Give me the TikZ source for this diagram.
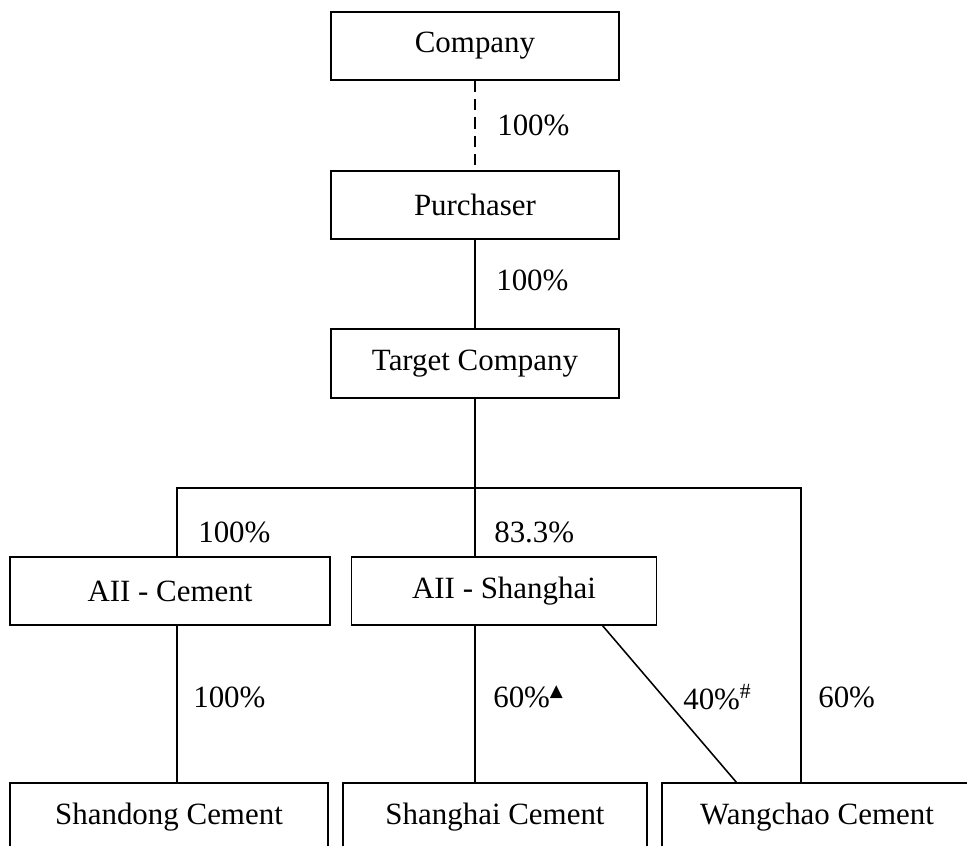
\documentclass[tikz,border=0pt]{standalone}
\usepackage{fontspec}
\setmainfont{Liberation Serif}
\newfontfamily\symfont{DejaVu Sans}
\usetikzlibrary{calc}
\tikzset{
  entity/.style={draw, line width=1.1pt, minimum height=1.7cm, inner sep=0pt,
    font=\fontsize{22}{26}\selectfont},
  share/.style={anchor=west, inner sep=0pt, font=\fontsize{22}{26}\selectfont},
  link/.style={line width=1.1pt}
}
\newcommand{\tri}{\raisebox{0.75ex}{\fontsize{12}{12}\symfont ▲}}

\begin{document}
\begin{tikzpicture}[x=0.025cm,y=-0.025cm]
			%%%%% START %%%%%
			\useasboundingbox (0,0) rectangle (967,846);
			\clip (0,0) rectangle (967,846);
			
			\node[entity, minimum width=7.2cm] (company) at (475, 46) {Company};
			\node[entity, minimum width=7.2cm] (purchaser) at (475, 205) {Purchaser};
			\node[entity, minimum width=7.2cm, minimum height=1.72cm] (target) at (475, 363.5) {Target Company};
			
			\node[entity, minimum width=8.0cm] (aiicement) at (170, 591) {AII - Cement};
			\node[entity, minimum width=7.62cm] (aiishanghai) at (504, 591) {AII - Shanghai};
			
			\node[entity, minimum width=7.95cm] (shandong) at (169, 817) {Shandong Cement};
			\node[entity, minimum width=7.6cm] (shanghai) at (495, 817) {Shanghai Cement};
			\node[entity, minimum width=7.75cm] (wangchao) at (817, 817) {Wangchao Cement};
			
			\coordinate (busmid) at (475, 488);
			\coordinate (busleft) at (177, 488);
			\coordinate (busright) at (801, 488);
			\coordinate (diagtop) at (602, 625);
			\coordinate (diagbot) at (737, 783);
			
			\draw[link, dashed, dash pattern=on 8pt off 5pt] (company) -- (purchaser);
			\draw[link] (purchaser) -- (target);
			\draw[link] (target.south) -- (busmid);
			\draw[link] (busleft |- aiicement.north) -- (busleft) -- (busright) -- (busright |- wangchao.north);
			\draw[link] (busmid) -- (busmid |- aiishanghai.north);
			\draw[link] (busleft |- aiicement.south) -- (busleft |- shandong.north);
			\draw[link] (busmid |- aiishanghai.south) -- (busmid |- shanghai.north);
			\draw[link] (diagtop) -- (diagbot);
			
			\node[share] (p1) at (497, 125) {100\%};
			\node[share] (p2) at (496, 280) {100\%};
			\node[share] (p3) at (198, 532) {100\%};
			\node[share] (p4) at (494, 532) {83.3\%};
			\node[share] (p5) at (193, 697) {100\%};
			\node[share] (p6) at (493, 697) {60\%\tri};
			\node[share] (p7) at (683, 697) {40\%\textsuperscript{\#}};
			\node[share] (p8) at (818, 697) {60\%};
			
			%%%%% END %%%%%
		\end{tikzpicture}
\end{document}
